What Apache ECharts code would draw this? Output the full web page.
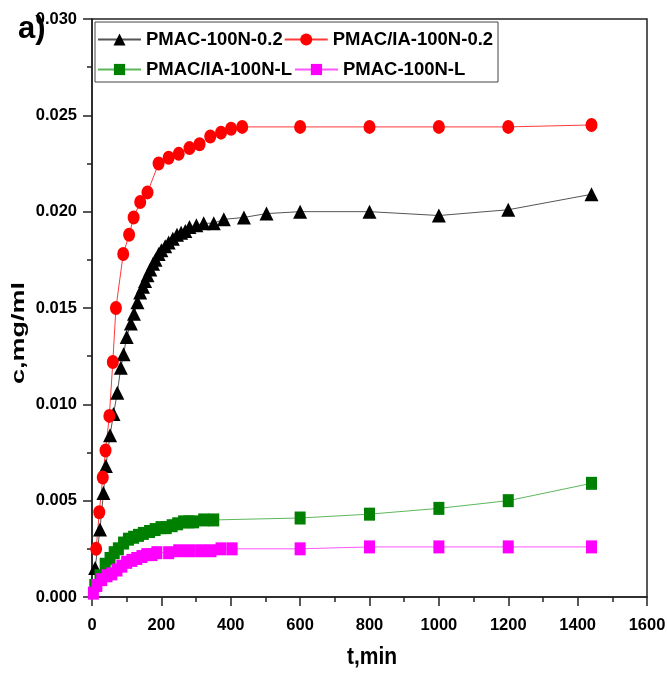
<!DOCTYPE html>
<html>
<head>
<meta charset="utf-8">
<script src="https://cdn.jsdelivr.net/npm/echarts@6/dist/echarts.min.js"></script>
<style>
  html, body { margin: 0; padding: 0; background: #fff; }
  #main { width: 667px; height: 673px; }
</style>
</head>
<body>
<div id="main"></div>
<script>
    // 数据 (t, min / c, mg/ml)
    var tBlack = [9, 23, 33, 40, 52, 62, 73, 83, 91, 100, 112, 121, 131, 139, 147, 153, 160, 168, 176, 183, 192, 200, 211, 221, 233, 245, 257, 269, 281, 301, 322, 351, 380, 438, 503, 600, 800, 1000, 1200, 1440];
    var cBlack = [0.0015, 0.0035, 0.0054, 0.0068, 0.0084, 0.0095, 0.0106, 0.0119, 0.0126, 0.0135, 0.0142, 0.0147, 0.0153, 0.0158, 0.0161, 0.0164, 0.0167, 0.0170, 0.0173, 0.0175, 0.0178, 0.0180, 0.0182, 0.0184, 0.0186, 0.0188, 0.0189, 0.0190, 0.0192, 0.0193, 0.0194, 0.0194, 0.0196, 0.0197, 0.0199, 0.0200, 0.0200, 0.0198, 0.0201, 0.0209];

    var tRed = [12, 21, 31, 39, 50, 60, 69, 90, 107, 120, 139, 160, 192, 221, 250, 281, 310, 341, 372, 401, 433, 600, 800, 1000, 1200, 1440];
    var cRed = [0.0025, 0.0044, 0.0062, 0.0076, 0.0094, 0.0122, 0.0150, 0.0178, 0.0188, 0.0197, 0.0205, 0.0210, 0.0225, 0.0228, 0.0230, 0.0233, 0.0235, 0.0239, 0.0241, 0.0243, 0.0244, 0.0244, 0.0244, 0.0244, 0.0244, 0.0245];

    var tGreen = [8, 23, 38, 52, 64, 76, 91, 105, 120, 134, 148, 166, 182, 199, 214, 231, 247, 264, 279, 293, 322, 351, 600, 800, 1000, 1200, 1440];
    var cGreen = [0.0006, 0.0011, 0.0017, 0.0020, 0.0023, 0.0025, 0.0028, 0.0030, 0.0031, 0.0032, 0.0033, 0.0034, 0.0035, 0.0036, 0.0036, 0.0037, 0.0038, 0.0039, 0.0039, 0.0039, 0.0040, 0.0040, 0.0041, 0.0043, 0.0046, 0.0050, 0.0059];

    var tPink = [4, 14, 28, 43, 57, 72, 86, 100, 115, 129, 144, 158, 173, 187, 221, 250, 281, 313, 343, 372, 404, 600, 800, 1000, 1200, 1440];
    var cPink = [0.0002, 0.0006, 0.0009, 0.0011, 0.0012, 0.0014, 0.0016, 0.0018, 0.0019, 0.0020, 0.0021, 0.0022, 0.0022, 0.0023, 0.0023, 0.0024, 0.0024, 0.0024, 0.0024, 0.0025, 0.0025, 0.0025, 0.0026, 0.0026, 0.0026, 0.0026];

    var xTicks = [0, 200, 400, 600, 800, 1000, 1200, 1400, 1600];
    var yTicks = [0, 0.005, 0.010, 0.015, 0.020, 0.025, 0.030];

    var names = ["PMAC-100N-0.2", "PMAC/IA-100N-0.2", "PMAC/IA-100N-L", "PMAC-100N-L"];

    function zip(t, c) {
        return t.map(function (v, i) { return [v, c[i]]; });
    }

    var font = "'Liberation Sans', Arial, sans-serif";
    var legendText = {fontFamily: font, fontWeight: "bold", fontSize: 18.5, color: "#000"};
    var tickLine = {color: "#222", width: 1.5};

    var chart = echarts.init(document.getElementById("main"));
    chart.setOption({
        animation: false,
        backgroundColor: "#fff",
        grid: {
            left: 92, right: 20, top: 19, bottom: 76, containLabel: false, outerBoundsMode: "none",
            show: true, borderColor: "#222", borderWidth: 1.5
        },
        //图例 两行
        legend: [
            {
                data: [names[0], names[1]], left: 97, top: 30, itemWidth: 43, itemHeight: 15, itemGap: 1,
                textStyle: legendText, padding: 0
            },
            {
                data: [names[2], names[3]], left: 97, top: 60, itemWidth: 43, itemHeight: 14, itemGap: 2,
                textStyle: legendText, padding: 0
            }
        ],
        graphic: [
            {type: "rect", shape: {x: 95, y: 22, width: 403, height: 60}, style: {fill: "none", stroke: "#444", lineWidth: 1}, z: 100},
            {type: "text", x: 18, y: 29, z: 100, style: {text: "a)", font: "bold 31px " + font, fill: "#000", align: "left", verticalAlign: "middle"}},
            //坐标轴标题
            {type: "text", x: 19, y: 333, rotation: Math.PI / 2, scaleX: 1.42,
                style: {text: "c,mg/ml", font: "bold 19px " + font, fill: "#000", align: "center", verticalAlign: "middle"}},
            {type: "text", x: 372, y: 657, scaleY: 1.15,
                style: {text: "t,min", font: "bold 21px " + font, fill: "#000", align: "center", verticalAlign: "middle"}}
        ],
        xAxis: {
            type: "value", min: xTicks[0], max: xTicks[xTicks.length - 1], interval: 200,
            axisLine: {lineStyle: tickLine},
            axisTick: {length: 9, lineStyle: tickLine},
            minorTick: {show: true, splitNumber: 2, length: 5, lineStyle: tickLine},
            axisLabel: {
                fontFamily: font, fontWeight: "bold", fontSize: 16.5, color: "#000", margin: 20,
                formatter: function (v) { return String(v); }
            },
            splitLine: {show: false}
        },
        yAxis: {
            type: "value", min: yTicks[0], max: yTicks[yTicks.length - 1], interval: 0.005,
            axisLine: {lineStyle: tickLine},
            axisTick: {length: 9, lineStyle: tickLine},
            minorTick: {show: true, splitNumber: 2, length: 5, lineStyle: tickLine},
            axisLabel: {
                fontFamily: font, fontWeight: "bold", fontSize: 16.5, color: "#000", margin: 15,
                formatter: function (v) { return v.toFixed(3); }
            },
            splitLine: {show: false}
        },
        series: [
            {
                name: names[0], type: "line", data: zip(tBlack, cBlack),
                symbol: "triangle", symbolSize: [14, 14],
                itemStyle: {color: "#000"}, lineStyle: {color: "#555", width: 1}
            },
            {
                name: names[1], type: "line", data: zip(tRed, cRed),
                symbol: "circle", symbolSize: [12, 14],
                itemStyle: {color: "#ff0000"}, lineStyle: {color: "#ff3a3a", width: 1}
            },
            {
                name: names[2], type: "line", data: zip(tGreen, cGreen),
                symbol: "rect", symbolSize: [11, 13],
                itemStyle: {color: "#008000"}, lineStyle: {color: "#5cb85c", width: 1}
            },
            {
                name: names[3], type: "line", data: zip(tPink, cPink),
                symbol: "rect", symbolSize: [11, 13],
                itemStyle: {color: "#ff00ff"}, lineStyle: {color: "#ff55ff", width: 1}
            }
        ]
    });
</script>
</body>
</html>
